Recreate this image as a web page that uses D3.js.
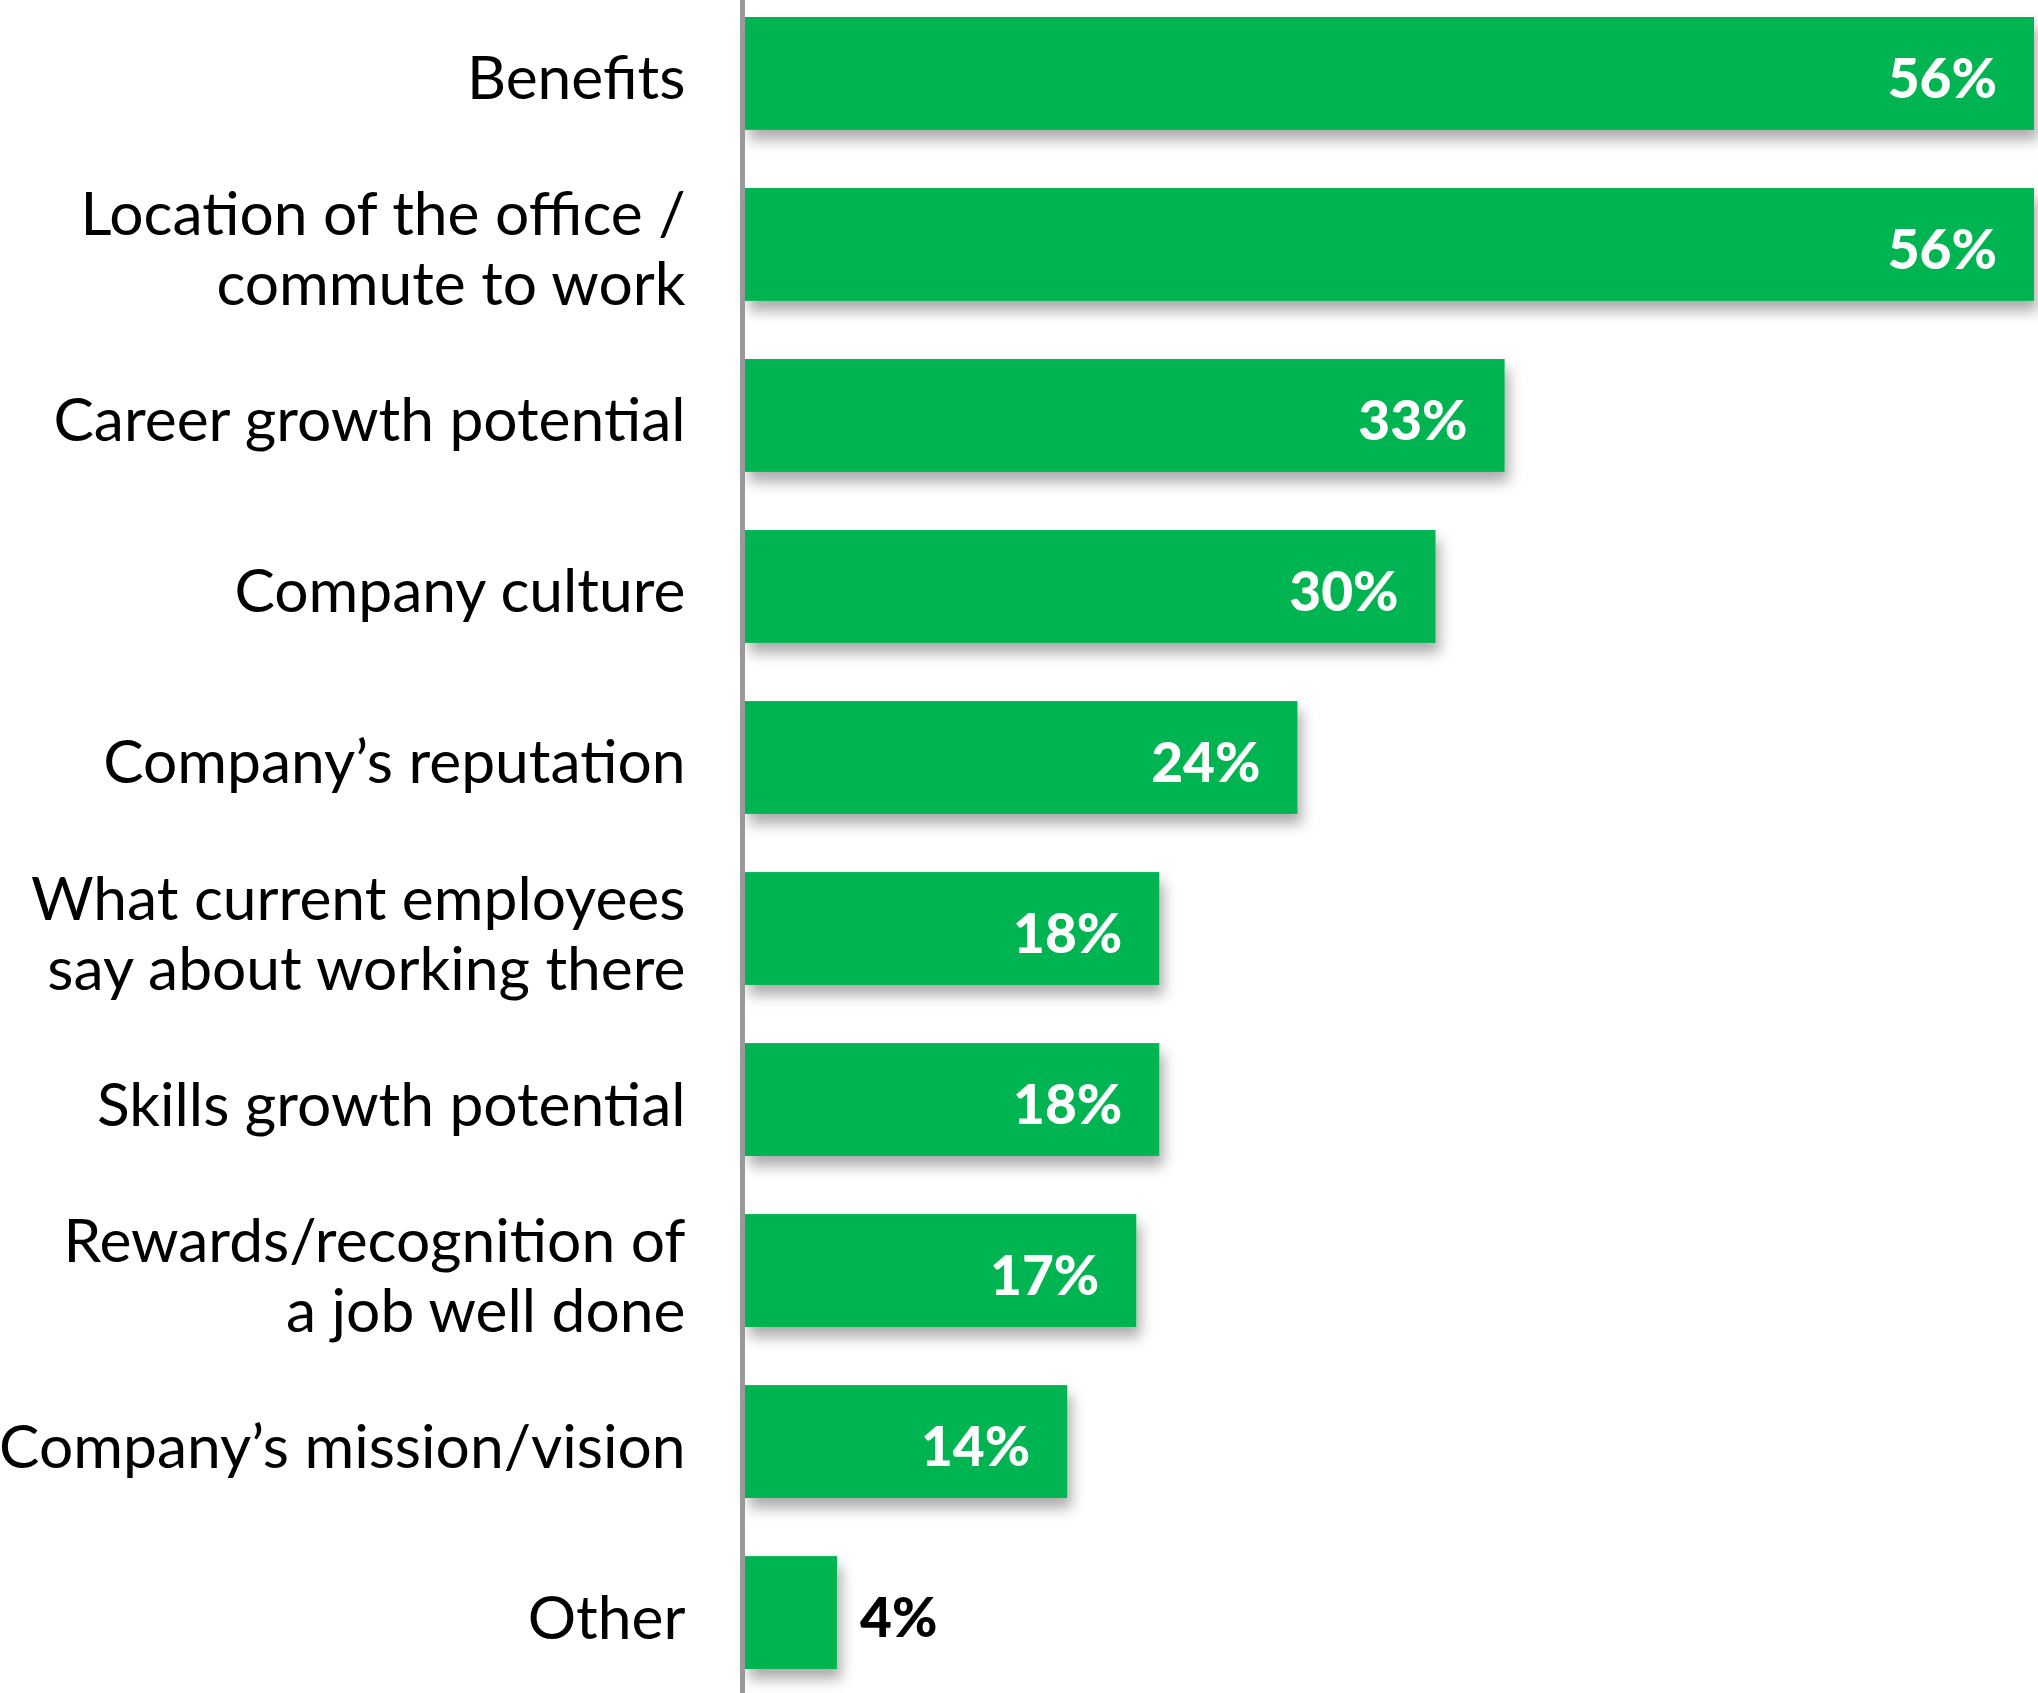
<!DOCTYPE html>
<html>
<head>
<meta charset="utf-8">
<script src="https://cdn.jsdelivr.net/npm/d3@7"></script>
<style>
  html, body { margin: 0; padding: 0; background: #fff; }
  svg { display: block; }
</style>
</head>
<body>
<svg id="chart" width="2038" height="1693"></svg>
<script>
// Reasons for choosing an employer (share of respondents)
const categories = [
  "Benefits",
  "Location of the office /\ncommute to work",
  "Career growth potential",
  "Company culture",
  "Company\u2019s reputation",
  "What current employees\nsay about working there",
  "Skills growth potential",
  "Rewards/recognition of\na job well done",
  "Company\u2019s mission/vision",
  "Other"
];
const values = [56, 56, 33, 30, 24, 18, 18, 17, 14, 4];
const valueLabels = ["56%", "56%", "33%", "30%", "24%", "18%", "18%", "17%", "14%", "4%"];

const width = 2038, height = 1693;
const axisX = 742.5;
const barX = 745;
const green = "#00b451";
const font = "Lato, 'Open Sans', sans-serif";

const svg = d3.select("#chart");

const defs = svg.append("defs");
const shadow = defs.append("filter")
  .attr("id", "barShadow")
  .attr("x", "-10%").attr("y", "-20%")
  .attr("width", "130%").attr("height", "170%");
shadow.append("feDropShadow")
  .attr("dx", 4).attr("dy", 10)
  .attr("stdDeviation", 7)
  .attr("flood-color", "#000")
  .attr("flood-opacity", 0.33);

const x = d3.scaleLinear().domain([0, 56]).range([barX, 2034]);
const y = d3.scaleBand()
  .domain(categories)
  .range([17, 1669])
  .paddingInner(0.34)
  .paddingOuter(0);

const data = categories.map((c, i) => ({ cat: c, value: values[i], label: valueLabels[i] }));

// Bars
svg.append("g")
  .selectAll("rect")
  .data(data)
  .join("rect")
  .attr("x", x(0))
  .attr("y", d => y(d.cat))
  .attr("width", d => x(d.value) - x(0))
  .attr("height", y.bandwidth())
  .attr("fill", green)
  .attr("filter", "url(#barShadow)");

// Value labels: inside the bar when there is room, otherwise just past its end
svg.append("g")
  .selectAll("text")
  .data(data)
  .join("text")
  .attr("x", d => d.value >= 10 ? x(d.value) - 37 : x(d.value) + 23)
  .attr("y", d => y(d.cat) + y.bandwidth() / 2 + 5)
  .attr("dy", "0.35em")
  .attr("text-anchor", d => d.value >= 10 ? "end" : "start")
  .attr("fill", d => d.value >= 10 ? "#fff" : "#000")
  .style("font-family", font)
  .style("font-weight", 900)
  .style("font-size", "55px")
  .text(d => d.label);

// Category axis
const axis = d3.axisLeft(y).tickSize(0).tickPadding(57);
const gAxis = svg.append("g")
  .attr("transform", `translate(${axisX},0)`)
  .call(axis);
gAxis.select(".domain").remove();
gAxis.selectAll(".tick text")
  .style("font-family", font)
  .style("font-size", "60.5px")
  .attr("fill", "#000")
  .each(function (d) {
    const t = d3.select(this);
    const lines = d.split("\n");
    const xPos = t.attr("x");
    t.text(null).attr("dy", null);
    const lh = 70;
    const startOffset = -(lines.length - 1) * lh / 2;
    lines.forEach((ln, i) => {
      t.append("tspan")
        .attr("x", xPos)
        .attr("dy", i === 0 ? `${startOffset + 26}px` : `${lh}px`)
        .text(ln);
    });
  });

// Baseline running the full height
svg.append("line")
  .attr("x1", axisX).attr("x2", axisX)
  .attr("y1", 0).attr("y2", height)
  .attr("stroke", "#999")
  .attr("stroke-width", 5);
</script>
</body>
</html>
